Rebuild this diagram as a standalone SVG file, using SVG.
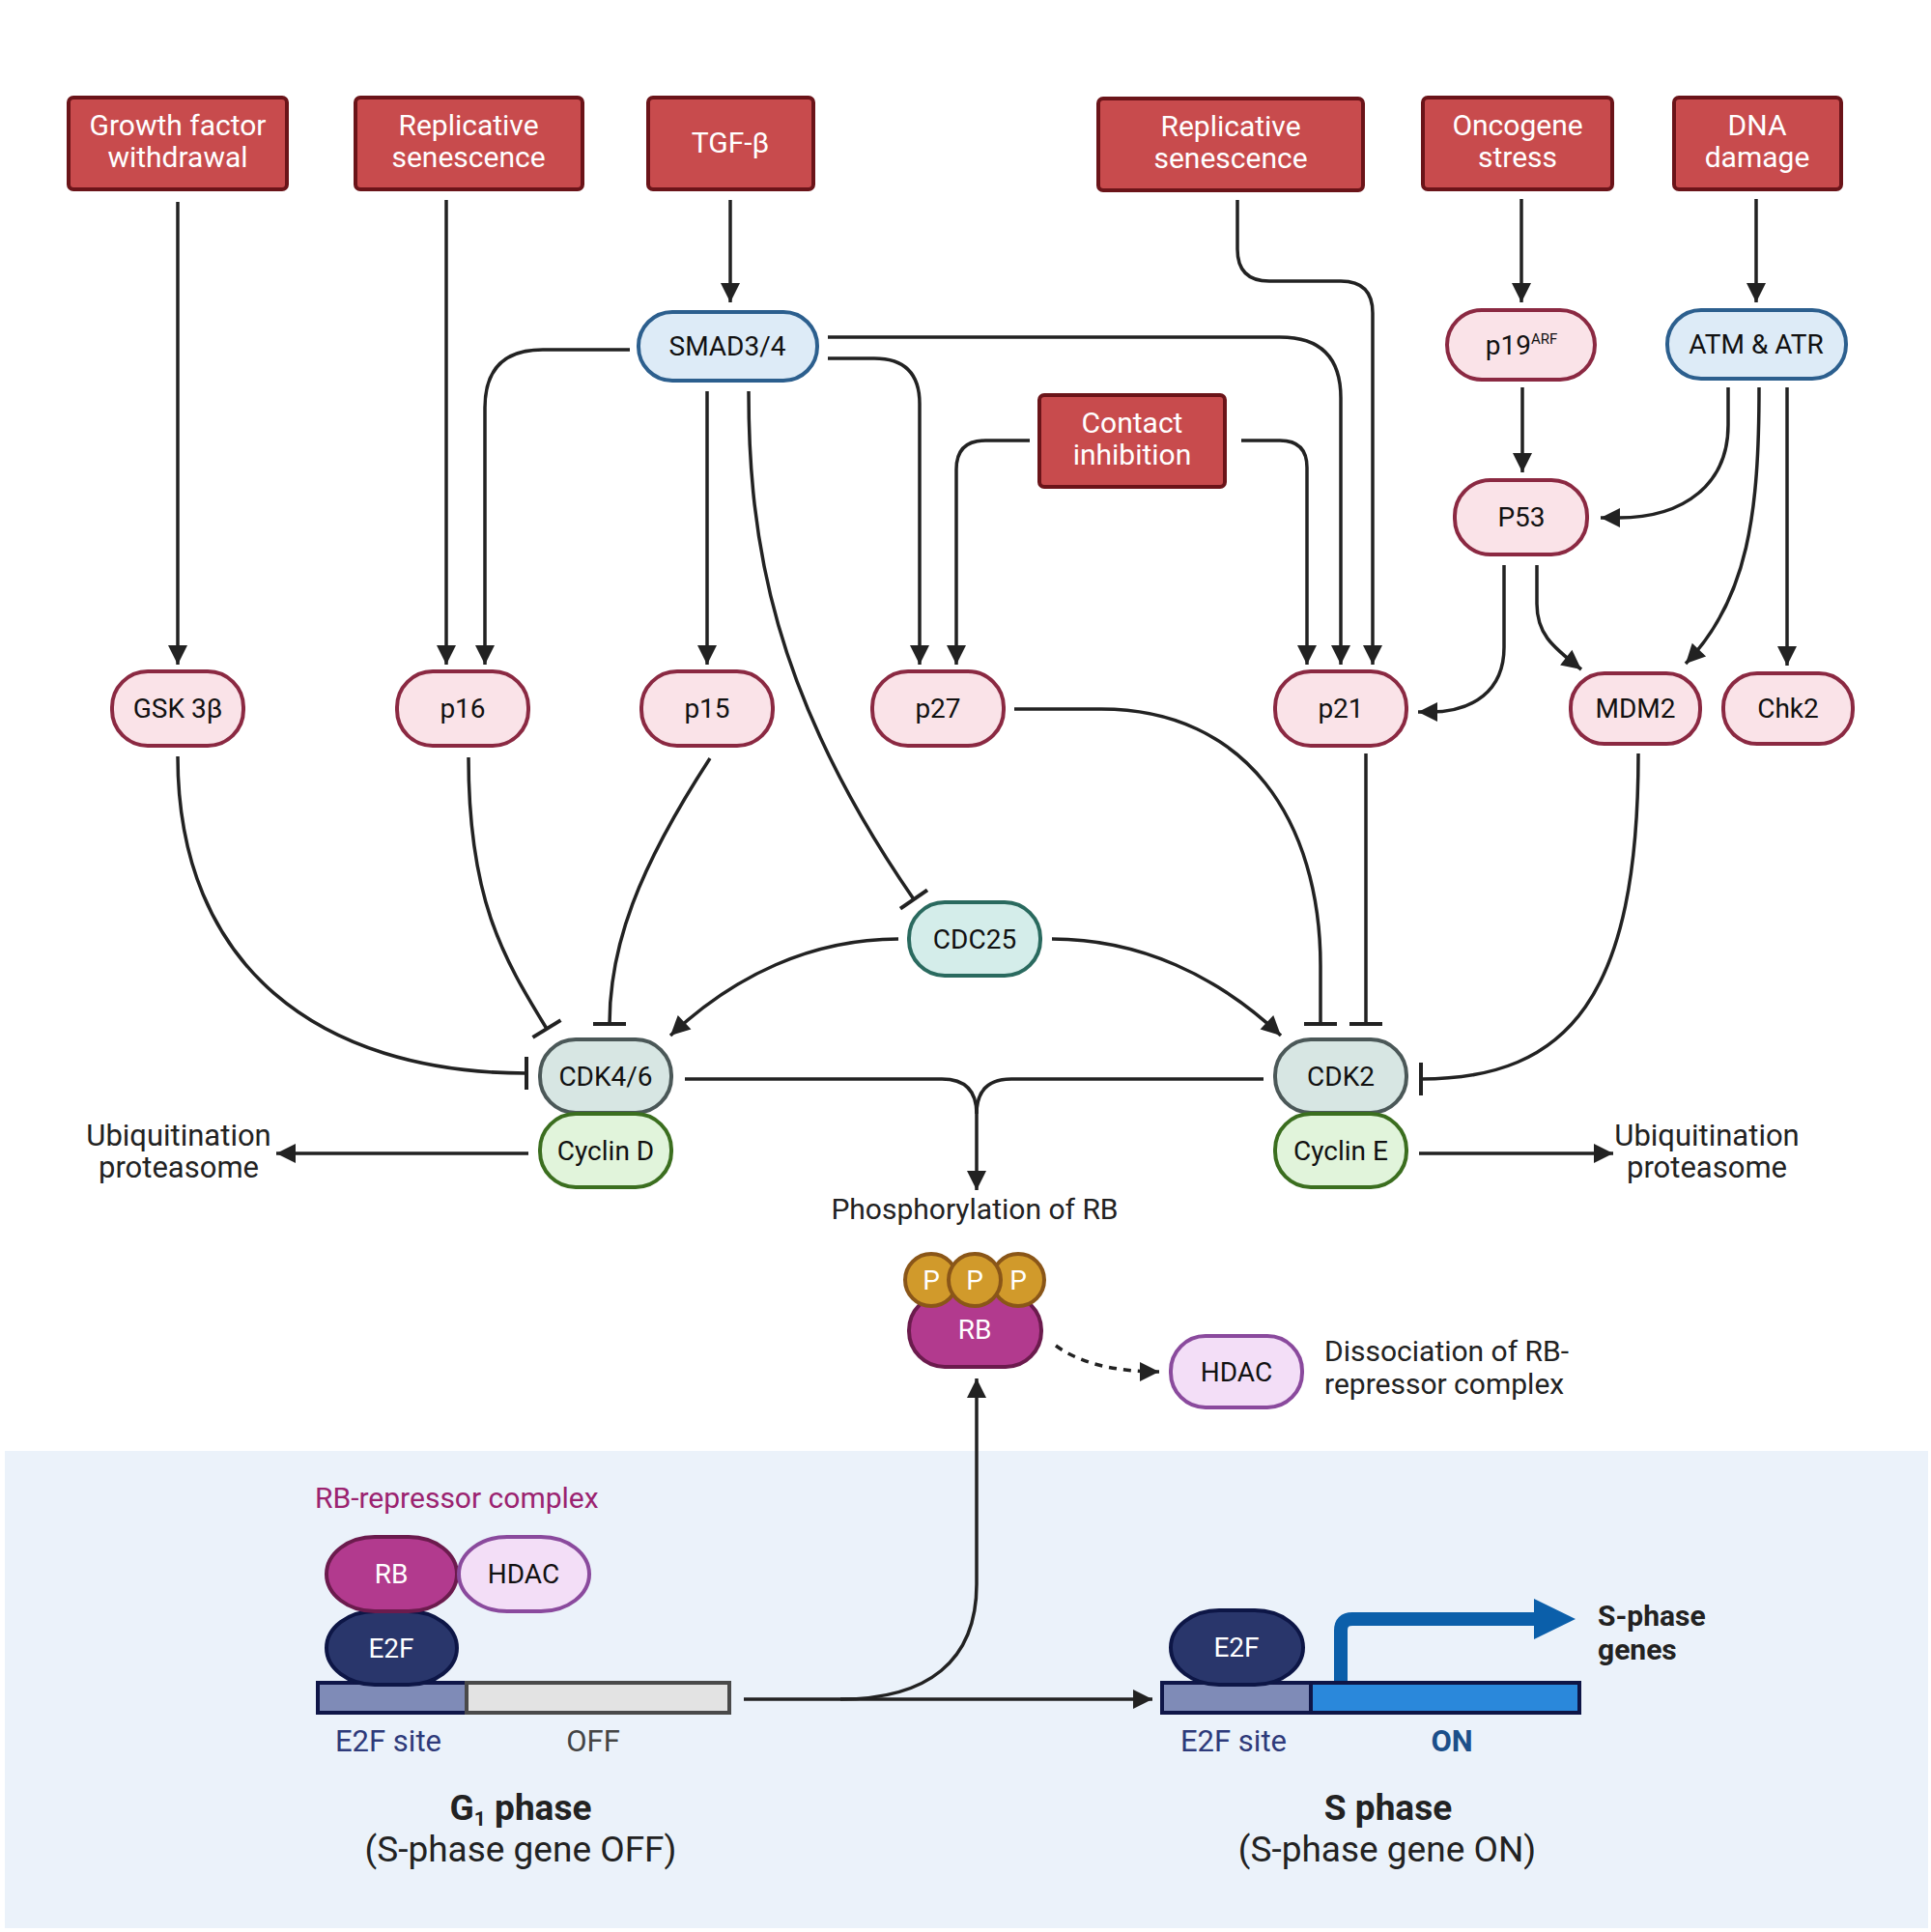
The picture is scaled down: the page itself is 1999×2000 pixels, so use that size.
<svg xmlns="http://www.w3.org/2000/svg" width="1999" height="2000" viewBox="0 0 1999 2000">
<defs>
<style>
text{font-family:Roboto,"Liberation Sans",sans-serif;}
.red{fill:#C84B4D;stroke:#6B1419;stroke-width:4;}
.wt{fill:#fff;font-size:30px;text-anchor:middle;}
.pink{fill:#FAE3E8;stroke:#8B2942;stroke-width:4;}
.blue{fill:#DDEBF7;stroke:#2C5F8E;stroke-width:4;}
.teal{fill:#D4EDEA;stroke:#2A6A5F;stroke-width:4;}
.cdk{fill:#D7E6E3;stroke:#4B5858;stroke-width:4;}
.cyc{fill:#E1F4DB;stroke:#3B6E1F;stroke-width:4;}
.rb{fill:#B23A8E;stroke:#6B1B4D;stroke-width:4;}
.hdac{fill:#F3DEF7;stroke:#8A4A9D;stroke-width:4;}
.e2f{fill:#29366B;stroke:#0D1646;stroke-width:4;}
.pp{fill:#D19A2B;stroke:#8A5618;stroke-width:4;}
.lb{fill:#111;font-size:28px;text-anchor:middle;}
.lw{fill:#fff;font-size:28px;text-anchor:middle;}
.tx{fill:#222;font-size:31px;text-anchor:middle;}
.c{fill:none;stroke:#222;stroke-width:3.5;}
.ar{marker-end:url(#arr);}
.te{marker-end:url(#tee);}
</style>
<marker id="arr" markerUnits="userSpaceOnUse" markerWidth="20" markerHeight="20" refX="20" refY="10" orient="auto" overflow="visible"><path d="M0,0 L20,10 L0,20 z" fill="#222"/></marker>
<marker id="tee" markerUnits="userSpaceOnUse" markerWidth="8" markerHeight="40" refX="0" refY="20" orient="auto" overflow="visible"><line x1="0" y1="3" x2="0" y2="37" stroke="#222" stroke-width="4"/></marker>
</defs>
<rect x="0" y="0" width="1999" height="2000" fill="#fff"/>
<rect x="5" y="1502" width="1991" height="494" fill="#EBF2FA"/>

<g id="connectors">
<path class="c ar" d="M184 209 L184 688"/>
<path class="c ar" d="M462 207 L462 688"/>
<path class="c ar" d="M652 362 L562 362 Q502 362 502 422 L502 688"/>
<path class="c ar" d="M756 207 L756 313"/>
<path class="c ar" d="M732 405 L732 688"/>
<path class="c te" d="M775 405 C775 560 800 720 946 931"/>
<path class="c ar" d="M857 349 L1325 349 Q1388 349 1388 412 L1388 688"/>
<path class="c ar" d="M857 371 L905 371 Q952 371 952 418 L952 688"/>
<path class="c ar" d="M1066 456 L1020 456 Q990 456 990 486 L990 688"/>
<path class="c ar" d="M1285 456 L1325 456 Q1353 456 1353 484 L1353 688"/>
<path class="c ar" d="M1281 207 L1281 258 Q1281 291 1314 291 L1388 291 Q1421 291 1421 324 L1421 688"/>
<path class="c ar" d="M1575 206 L1575 313"/>
<path class="c ar" d="M1818 206 L1818 313"/>
<path class="c ar" d="M1576 401 L1576 489"/>
<path class="c ar" d="M1789 401 L1789 440 C1789 500 1745 536 1675 536 L1657 536"/>
<path class="c ar" d="M1821 401 C1821 530 1810 620 1745 687"/>
<path class="c ar" d="M1850 401 L1850 689"/>
<path class="c ar" d="M1557 585 L1557 670 C1557 715 1525 737 1480 737 L1468 737"/>
<path class="c ar" d="M1591 585 L1591 625 C1591 655 1605 668 1637 693"/>
<path class="c te" d="M184 783 C184 1000 330 1111 545 1111"/>
<path class="c te" d="M485 784 C485 930 520 990 566 1065"/>
<path class="c te" d="M735 785 C660 900 631 980 631 1060"/>
<path class="c ar" d="M930 972 C840 972 760 1010 694 1072"/>
<path class="c ar" d="M1089 972 C1180 972 1260 1010 1326 1072"/>
<path class="c te" d="M1050 734 L1140 734 C1290 734 1367 850 1367 1000 L1367 1060"/>
<path class="c te" d="M1414 780 L1414 1060"/>
<path class="c te" d="M1696 780 C1696 1030 1625 1117 1471 1117"/>
<path class="c ar" d="M709 1117 L975 1117 Q1011 1117 1011 1153 L1011 1232"/>
<path class="c" d="M1308 1117 L1047 1117 Q1011 1117 1011 1153"/>
<path class="c ar" d="M547 1194 L286 1194"/>
<path class="c ar" d="M1469 1194 L1670 1194"/>
<path class="c ar" d="M1093 1393 Q1130 1420 1200 1420" stroke-dasharray="8 7"/>
<path class="c ar" d="M770 1759 L1193 1759"/>
<path class="c ar" d="M870 1759 C960 1759 1011 1720 1011 1640 L1011 1427"/>
</g>

<g id="n-growth"><rect class="red" x="71" y="101" width="226" height="95" rx="5"/><text class="wt" x="184" y="140">Growth factor</text><text class="wt" x="184" y="173">withdrawal</text></g>
<g id="n-rep1"><rect class="red" x="368" y="101" width="235" height="95" rx="5"/><text class="wt" x="485" y="140">Replicative</text><text class="wt" x="485" y="173">senescence</text></g>
<g id="n-tgf"><rect class="red" x="671" y="101" width="171" height="95" rx="5"/><text class="wt" x="756" y="158">TGF-β</text></g>
<g id="n-rep2"><rect class="red" x="1137" y="102" width="274" height="95" rx="5"/><text class="wt" x="1274" y="141">Replicative</text><text class="wt" x="1274" y="174">senescence</text></g>
<g id="n-onc"><rect class="red" x="1473" y="101" width="196" height="95" rx="5"/><text class="wt" x="1571" y="140">Oncogene</text><text class="wt" x="1571" y="173">stress</text></g>
<g id="n-dna"><rect class="red" x="1733" y="101" width="173" height="95" rx="5"/><text class="wt" x="1819" y="140">DNA</text><text class="wt" x="1819" y="173">damage</text></g>
<g id="n-contact"><rect class="red" x="1076" y="409" width="192" height="95" rx="5"/><text class="wt" x="1172" y="448">Contact</text><text class="wt" x="1172" y="481">inhibition</text></g>

<g id="n-smad"><rect class="blue" x="661" y="323" width="185" height="71" rx="35"/><text class="lb" x="753" y="368">SMAD3/4</text></g>
<g id="n-p19"><rect class="pink" x="1498" y="321" width="153" height="72" rx="36"/><text class="lb" x="1575" y="367">p19<tspan font-size="15" dy="-11">ARF</tspan></text></g>
<g id="n-atm"><rect class="blue" x="1726" y="321" width="185" height="71" rx="35"/><text class="lb" x="1818" y="366">ATM &amp; ATR</text></g>
<g id="n-p53"><rect class="pink" x="1506" y="497" width="137" height="77" rx="37"/><text class="lb" x="1575" y="545">P53</text></g>

<g id="n-gsk"><rect class="pink" x="116" y="695" width="136" height="77" rx="37"/><text class="lb" x="184" y="743">GSK 3β</text></g>
<g id="n-p16"><rect class="pink" x="411" y="695" width="136" height="77" rx="37"/><text class="lb" x="479" y="743">p16</text></g>
<g id="n-p15"><rect class="pink" x="664" y="695" width="136" height="77" rx="37"/><text class="lb" x="732" y="743">p15</text></g>
<g id="n-p27"><rect class="pink" x="903" y="695" width="136" height="77" rx="37"/><text class="lb" x="971" y="743">p27</text></g>
<g id="n-p21"><rect class="pink" x="1320" y="695" width="136" height="77" rx="37"/><text class="lb" x="1388" y="743">p21</text></g>
<g id="n-mdm2"><rect class="pink" x="1626" y="697" width="134" height="73" rx="35"/><text class="lb" x="1693" y="743">MDM2</text></g>
<g id="n-chk2"><rect class="pink" x="1784" y="697" width="134" height="73" rx="35"/><text class="lb" x="1851" y="743">Chk2</text></g>

<g id="n-cdc25"><rect class="teal" x="941" y="934" width="136" height="76" rx="37"/><text class="lb" x="1009" y="982">CDC25</text></g>
<g id="n-cdk46"><rect class="cdk" x="559" y="1076" width="136" height="76" rx="37"/><text class="lb" x="627" y="1124">CDK4/6</text></g>
<g id="n-cycd"><rect class="cyc" x="559" y="1153" width="136" height="76" rx="37"/><text class="lb" x="627" y="1201">Cyclin D</text></g>
<g id="n-cdk2"><rect class="cdk" x="1320" y="1076" width="136" height="76" rx="37"/><text class="lb" x="1388" y="1124">CDK2</text></g>
<g id="n-cyce"><rect class="cyc" x="1320" y="1153" width="136" height="76" rx="37"/><text class="lb" x="1388" y="1201">Cyclin E</text></g>

<g id="t-ubi1"><text class="tx" x="185" y="1186">Ubiquitination</text><text class="tx" x="185" y="1219">proteasome</text></g>
<g id="t-ubi2"><text class="tx" x="1767" y="1186">Ubiquitination</text><text class="tx" x="1767" y="1219">proteasome</text></g>
<text class="tx" x="1009" y="1262" style="font-size:30px">Phosphorylation of RB</text>

<g id="n-prb"><rect class="rb" x="941" y="1340" width="137" height="75" rx="37"/><text class="lw" x="1009" y="1386">RB</text>
<circle class="pp" cx="964" cy="1325" r="27"/><circle class="pp" cx="1054" cy="1325" r="27"/><circle class="pp" cx="1009" cy="1325" r="27"/>
<text class="lw" x="964" y="1335">P</text><text class="lw" x="1009" y="1335">P</text><text class="lw" x="1054" y="1335">P</text></g>
<g id="n-hdac1"><rect class="hdac" x="1212" y="1383" width="136" height="74" rx="36"/><text class="lb" x="1280" y="1430">HDAC</text></g>
<g id="t-diss"><text class="tx" x="1371" y="1409" style="text-anchor:start;font-size:30px">Dissociation of RB-</text><text class="tx" x="1371" y="1443" style="text-anchor:start;font-size:30px">repressor complex</text></g>

<text x="326" y="1561" font-size="30" fill="#9B2370">RB-repressor complex</text>
<g id="n-g1"><rect x="329" y="1742" width="154" height="31" fill="#7F8BB7" stroke="#0F1648" stroke-width="4"/><rect x="483" y="1742" width="272" height="31" fill="#E3E3E3" stroke="#4A4A4A" stroke-width="4"/>
<rect class="e2f" x="338" y="1668" width="135" height="76" rx="50" ry="40"/><text class="lw" x="405" y="1716">E2F</text>
<rect class="rb" x="338" y="1591" width="135" height="77" rx="50" ry="40"/><text class="lw" x="405" y="1639">RB</text>
<rect class="hdac" x="475" y="1591" width="135" height="77" rx="50" ry="40"/><text class="lb" x="542" y="1639">HDAC</text>
<text x="402" y="1813" font-size="31" fill="#2E3A7A" text-anchor="middle">E2F site</text>
<text x="614" y="1813" font-size="31" fill="#444" text-anchor="middle">OFF</text>
<text x="539" y="1884" font-size="37" font-weight="bold" fill="#222" text-anchor="middle">G<tspan font-size="21" dy="6">1</tspan><tspan dy="-6"> phase</tspan></text>
<text x="539" y="1927" font-size="37" fill="#222" text-anchor="middle">(S-phase gene OFF)</text></g>

<g id="n-s"><rect x="1203" y="1742" width="154" height="31" fill="#7F8BB7" stroke="#0F1648" stroke-width="4"/><rect x="1357" y="1742" width="278" height="31" fill="#2A88DB" stroke="#0E1546" stroke-width="4"/>
<rect class="e2f" x="1212" y="1667" width="137" height="77" rx="50" ry="40"/><text class="lw" x="1280" y="1715">E2F</text>
<path d="M1388 1740 L1388 1688 Q1388 1676 1400 1676 L1592 1676" fill="none" stroke="#0B5FAA" stroke-width="14"/>
<polygon points="1588,1655 1631,1676 1588,1697" fill="#0B5FAA"/>
<text x="1654" y="1683" font-size="30" font-weight="bold" fill="#222">S-phase</text>
<text x="1654" y="1718" font-size="30" font-weight="bold" fill="#222">genes</text>
<text x="1277" y="1813" font-size="31" fill="#2E3A7A" text-anchor="middle">E2F site</text>
<text x="1503" y="1813" font-size="31" font-weight="bold" fill="#1B4F8A" text-anchor="middle">ON</text>
<text x="1437" y="1884" font-size="37" font-weight="bold" fill="#222" text-anchor="middle">S phase</text>
<text x="1436" y="1927" font-size="37" fill="#222" text-anchor="middle">(S-phase gene ON)</text></g>
</svg>
